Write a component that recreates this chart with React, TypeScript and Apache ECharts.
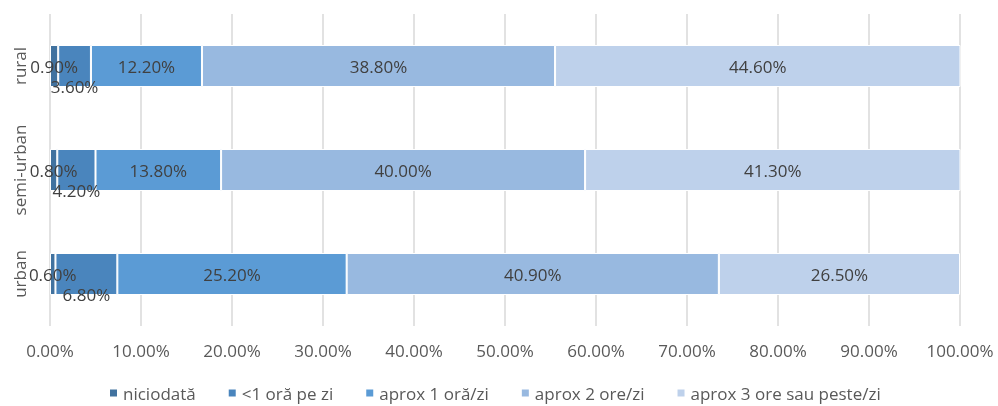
import React, { useEffect, useRef } from "react";
import * as echarts from "echarts";

// Share of respondents by time spent per day, per area type (percent)
const areas = ["rural", "semi-urban", "urban"];
const seriesNames = [
  "niciodată",
  "<1 oră pe zi",
  "aprox 1 oră/zi",
  "aprox 2 ore/zi",
  "aprox 3 ore sau peste/zi",
];
const niciodata = [0.9, 0.8, 0.6];
const subOra = [3.6, 4.2, 6.8];
const oOra = [12.2, 13.8, 25.2];
const douaOre = [38.8, 40.0, 40.9];
const treiOre = [44.6, 41.3, 26.5];
const xTicks = [0, 10, 20, 30, 40, 50, 60, 70, 80, 90, 100];

const colors = ["#41729F", "#4A85BD", "#5B9BD5", "#98B9E0", "#BED1EB"];
const FONT = "'Open Sans', sans-serif";

export default function App() {
  const ref = useRef<HTMLDivElement>(null);

  useEffect(() => {
    if (!ref.current) return;
    const chart = echarts.init(ref.current, null, { renderer: "svg" });
    const values = [niciodata, subOra, oOra, douaOre, treiOre];

    chart.setOption({
      animation: false,
      textStyle: { fontFamily: FONT },
      grid: { left: 50, right: 38, top: 14, height: 312 },
      legend: {
        top: 383,
        left: 108,
        padding: 0,
        icon: "rect",
        itemWidth: 9,
        itemHeight: 9,
        itemGap: 31,
        textStyle: { color: "#595959", fontSize: 17, fontFamily: FONT, lineHeight: 20 },
        data: seriesNames,
      },
      xAxis: {
        type: "value",
        min: xTicks[0],
        max: xTicks[xTicks.length - 1],
        interval: 10,
        axisLine: { show: false },
        axisTick: { show: false },
        splitLine: { lineStyle: { color: "#D9D9D9", width: 1.5 } },
        axisLabel: {
          color: "#595959",
          fontSize: 17,
          margin: 16,
          formatter: (v: number) => `${v.toFixed(2)}%`,
        },
      },
      yAxis: {
        type: "category",
        inverse: true,
        data: areas,
        axisLine: { show: false },
        axisTick: { show: false },
        axisLabel: {
          interval: 0,
          rotate: 90,
          color: "#595959",
          fontSize: 17,
          margin: 22,
          align: "center",
        },
      },
      series: seriesNames.map((name, i) => ({
        name,
        type: "bar",
        stack: "total",
        barWidth: 42,
        data: values[i],
        itemStyle: { color: colors[i], borderColor: "#ffffff", borderWidth: 1 },
        label: {
          show: true,
          position: "inside",
          offset: i === 1 ? [0, 20] : [0, 0],
          color: "#404040",
          fontSize: 17,
          fontFamily: FONT,
          formatter: (p: any) => `${Number(p.value).toFixed(2)}%`,
        },
      })),
    });

    return () => chart.dispose();
  }, []);

  return (
    <div
      ref={ref}
      style={{ position: "fixed", left: 0, top: 0, width: 998, height: 406 }}
    />
  );
}
